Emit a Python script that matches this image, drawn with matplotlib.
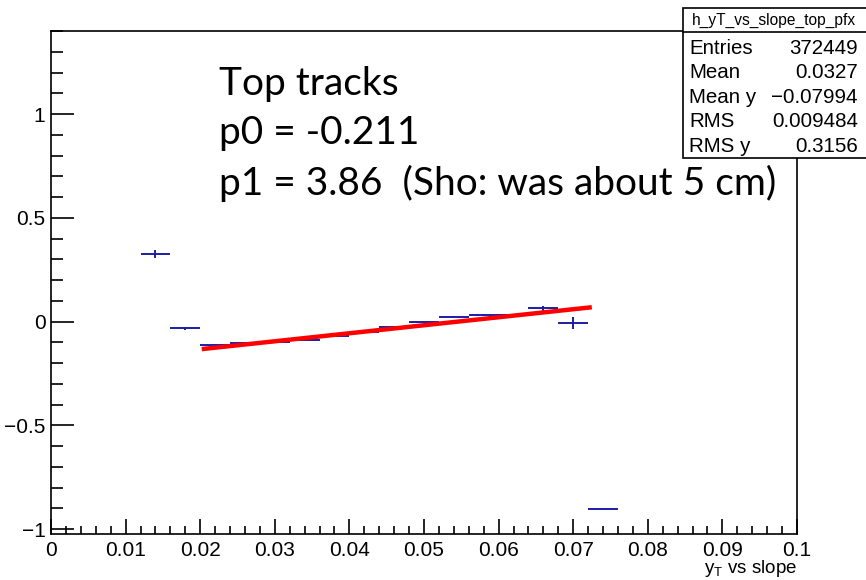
import numpy as np
import matplotlib
matplotlib.use("Agg")
import matplotlib.pyplot as plt
from matplotlib.patches import Rectangle
from matplotlib.ticker import MultipleLocator

plt.rcParams['font.family'] = ['Liberation Sans', 'DejaVu Sans']
plt.rcParams['mathtext.fontset'] = 'custom'
plt.rcParams['mathtext.rm'] = 'Liberation Sans'

# profile bins: slope (bin centres) and mean yT per bin
slope = [0.014, 0.018, 0.022, 0.026, 0.030, 0.034, 0.038, 0.042,
         0.046, 0.050, 0.054, 0.058, 0.062, 0.066, 0.070, 0.074]
yT_mean = [0.325, -0.033, -0.115, -0.105, -0.098, -0.088, -0.070, -0.050,
           -0.025, 0.0, 0.024, 0.030, 0.030, 0.063, -0.006, -0.903]
yT_err = [0.02, 0.006, 0.005, 0.004, 0.004, 0.004, 0.004, 0.004,
          0.004, 0.004, 0.004, 0.005, 0.005, 0.01, 0.03, 0.0]
bin_half = 0.002

# straight-line fit result
p0 = -0.211
p1 = 3.86
fit_range = [0.0205, 0.0722]

stats_title = "h_yT_vs_slope_top_pfx"
stats_names = ["Entries", "Mean", "Mean y", "RMS", "RMS y"]
stats_values = ["372449", "0.0327", "\u22120.07994", "0.009484", "0.3156"]

W, H = 866, 580
fig = plt.figure(figsize=(W / 100, H / 100), dpi=100)
ax = fig.add_axes([51 / W, 1 - 534 / H, (797 - 51) / W, (534 - 31) / H])

ax.errorbar(slope, yT_mean, xerr=bin_half, yerr=yT_err, fmt='none',
            ecolor='#1c1ca8', elinewidth=1.4, capsize=0, zorder=2)

xf = np.linspace(fit_range[0], fit_range[1], 50)
ax.plot(xf, p0 + p1 * xf, color='#ff0000', lw=3.2, zorder=3)

ax.set_xlim(0, 0.1)
ax.set_ylim(-1.024, 1.4)

ax.xaxis.set_major_locator(MultipleLocator(0.01))
ax.xaxis.set_minor_locator(MultipleLocator(0.002))
ax.yaxis.set_major_locator(MultipleLocator(0.5))
ax.yaxis.set_minor_locator(MultipleLocator(0.1))
ax.tick_params(axis='both', which='both', direction='in', top=False, right=False,
               labelsize=15, width=1.2, color='black')
ax.tick_params(axis='x', which='major', length=11, pad=5)
ax.tick_params(axis='x', which='minor', length=6)
ax.tick_params(axis='y', which='major', length=16.5, pad=4)
ax.tick_params(axis='y', which='minor', length=8.5)

def fmt(v, pos=None):
    if abs(v) < 1e-9:
        return "0"
    s = ("%g" % v).replace("-", "\u2212")
    return s

ax.xaxis.set_major_formatter(plt.FuncFormatter(fmt))
ax.yaxis.set_major_formatter(plt.FuncFormatter(fmt))
for sp in ax.spines.values():
    sp.set_linewidth(1.2)

# axis title, bottom right below the tick labels
fig.text(797 / W, 1 - 573 / H, r"y$_{\mathregular{T}}$ vs slope",
         ha='right', va='baseline', fontsize=13.5)

# fit annotation
for txt, yb in [("Top tracks", 95), ("p0 = -0.211", 144),
                ("p1 = 3.86  (Sho: was about 5 cm)", 195)]:
    fig.text(219 / W, 1 - yb / H, txt, fontsize=28, family='Lato',
             ha='left', va='baseline')

# stats box
bx0, bx1, by0, by1, bt = 683, 875, 8, 158, 32
fig.patches.append(Rectangle((bx0 / W, 1 - by1 / H), (bx1 - bx0) / W, (by1 - by0) / H,
                             transform=fig.transFigure, facecolor='white',
                             edgecolor='black', lw=1.2, zorder=5))
fig.lines.append(plt.Line2D([bx0 / W, 1], [1 - bt / H, 1 - bt / H],
                            transform=fig.transFigure, color='black', lw=1.2, zorder=6))
fig.text(774 / W, 1 - 20 / H, stats_title, fontsize=11.2,
         ha='center', va='center', zorder=7)
for i, (n, v) in enumerate(zip(stats_names, stats_values)):
    yy = 1 - (48 + 24.6 * i) / H
    fig.text(689 / W, yy, n, fontsize=14.8, ha='left', va='center', zorder=7)
    fig.text(858 / W, yy, v, fontsize=14.8, ha='right', va='center', zorder=7)

fig.savefig("out.png", dpi=100)
